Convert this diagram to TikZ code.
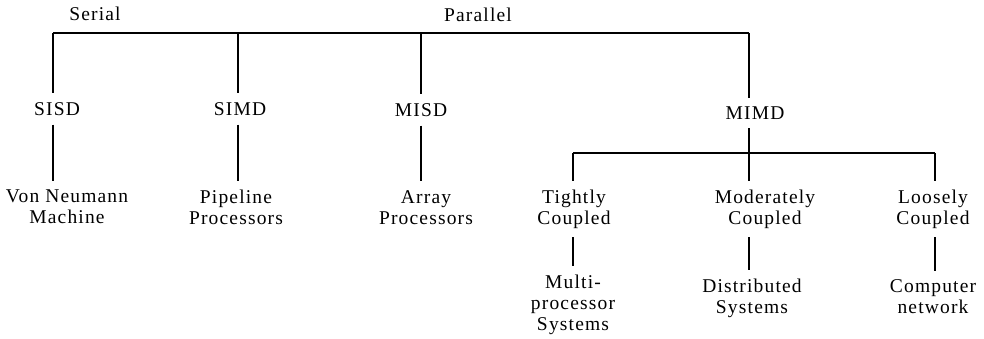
\documentclass[tikz,border=0pt]{standalone}
\usepackage{fontspec}
\setmainfont{Liberation Serif}[LetterSpace=6]
\usepackage{tikz}

\begin{document}
\begin{tikzpicture}[
    x=1pt, y=-1pt,
    term/.style={font=\fontsize{19.5}{21}\selectfont, align=center,
        inner sep=0pt, outer xsep=0pt, outer ysep=9pt},
    branch/.style={draw=black, line width=1.8pt},
]
    \useasboundingbox (0, 0) rectangle (984, 339);

    %% the two headings over the top bar
    \node[term] (serial) at (95, 14) {Serial};
    \node[term] (parallel) at (478, 15) {Parallel};

    %% the top bar and the four classes hanging from it
    \coordinate (sisd-top) at (53, 33);
    \coordinate (simd-top) at (238, 33);
    \coordinate (misd-top) at (421, 33);
    \coordinate (mimd-top) at (749, 33);
    \draw[branch] (sisd-top) -- (mimd-top);

    \node[term] (sisd) at (57, 109) {SISD};
    \node[term] (simd) at (240, 109) {SIMD};
    \node[term] (misd) at (421, 110) {MISD};
    \node[term] (mimd) at (755, 113) {MIMD};
    \foreach \n in {sisd, simd, misd, mimd}
        \draw[branch] (\n-top) -- (\n-top |- \n.north);

    %% what the first three classes stand for
    \node[term] (neumann) at (67, 206.5) {Von Neumann\\Machine};
    \node[term] (pipeline) at (236, 207.5) {Pipeline\\Processors};
    \node[term] (array) at (426, 207.5) {Array\\Processors};
    \foreach \a/\b in {sisd/neumann, simd/pipeline, misd/array}
        \draw[branch] (\a-top |- \a.south) -- (\a-top |- \b.north);

    %% the MIMD bar and its three couplings
    \coordinate (tightly-top) at (573, 153);
    \coordinate (moderately-top) at (749, 153);
    \coordinate (loosely-top) at (935, 153);
    \draw[branch] (mimd-top |- mimd.south) -- (moderately-top);
    \draw[branch] (tightly-top) -- (loosely-top);

    \node[term] (tightly) at (574, 209) {Tightly\\Coupled};
    \node[term] (moderately) at (765, 209) {Moderately\\Coupled};
    \node[term] (loosely) at (933, 209) {Loosely\\Coupled};
    \foreach \n in {tightly, moderately, loosely}
        \draw[branch] (\n-top) -- (\n-top |- \n.north);

    %% the systems built on each coupling
    \node[term] (multi) at (573, 305) {Multi-\\processor\\Systems};
    \node[term] (distributed) at (752, 298) {Distributed\\Systems};
    \node[term] (network) at (933, 297) {Computer\\network};
    \foreach \a/\b in {tightly/multi, moderately/distributed, loosely/network}
        \draw[branch] (\a-top |- \a.south) -- (\a-top |- \b.north);
\end{tikzpicture}
\end{document}
